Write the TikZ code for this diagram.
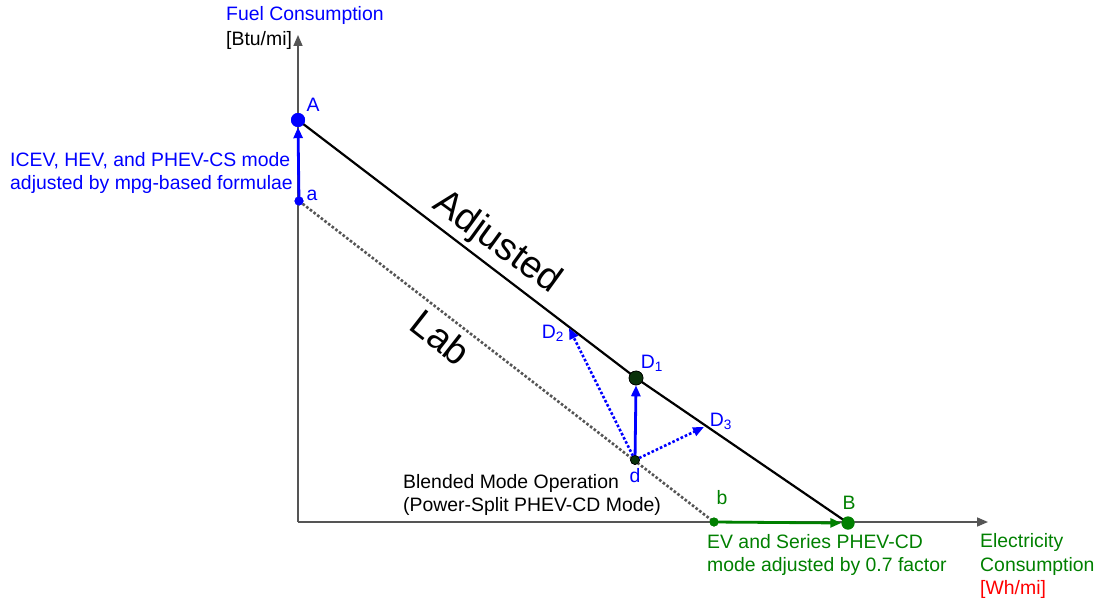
\documentclass[tikz,border=0pt]{standalone}
\usepackage{fontspec}
\setmainfont{Liberation Sans}
\usetikzlibrary{arrows.meta}
\definecolor{myblue}{RGB}{0,0,255}
\definecolor{mygreen}{RGB}{0,128,0}
\definecolor{axisgray}{RGB}{85,85,85}
\definecolor{dotgreen}{RGB}{10,50,10}
\begin{document}
\begin{tikzpicture}[x=1pt,y=-1pt,
  txt/.style={inner sep=0pt,font=\fontsize{19.4}{23.5}\selectfont},
  big/.style={inner sep=0pt,font=\fontsize{38}{40}\selectfont,rotate=-36},
  bigdot/.style={circle,inner sep=0pt,minimum size=14pt},
  smalldot/.style={circle,inner sep=0pt,minimum size=9pt},
  axisline/.style={draw=axisgray,line width=1.6pt,-{Triangle[length=11pt,width=9pt]}},
  arrowline/.style={line width=2.8pt,-{Triangle[length=11pt,width=9pt]}},
  dotarrow/.style={line width=2.6pt,dotted,-{Triangle[length=11pt,width=9pt]}}]
\useasboundingbox (0,0) rectangle (1099,602);
% coordinates
\coordinate (O) at (298,522);
\coordinate (Ytip) at (298,35);
\coordinate (Xtip) at (988,522);
\coordinate (D2) at (569,328);
\coordinate (D3) at (704,427);
% dots (positions)
\node[bigdot,fill=myblue] (A) at (298,120) {};
\node[smalldot,fill=myblue] (a) at (299,201) {};
\node[bigdot,fill=mygreen,minimum size=13pt] (B) at (848,523) {};
\node[smalldot,fill=mygreen] (b) at (714,522) {};
\node[smalldot,fill=dotgreen,draw=black,line width=0.6pt] (d) at (635,460) {};
\node[bigdot,fill=dotgreen,draw=black,line width=0.6pt] (D1) at (636,378) {};
% lab line
\draw[axisgray,line width=2.6pt,dotted] (a.center) -- (b.center);
% axes
\draw[axisline] (O) -- (Ytip);
\draw[axisline] (O) -- (Xtip);
% adjusted line
\draw[black,line width=2.2pt] (A.center) -- (D1.center) -- (B.center);
% arrows
\draw[arrowline,myblue] (a.center) -- (A.south);
\draw[arrowline,mygreen] (b.center) -- (B.west);
\draw[arrowline,myblue] (d.center) -- (D1.south);
\draw[dotarrow,myblue] (d.center) -- (D2);
\draw[dotarrow,myblue] (d.center) -- (D3);
% redraw dots on top
\node[bigdot,fill=myblue] at (A) {};
\node[smalldot,fill=myblue] at (a) {};
\node[bigdot,fill=mygreen,minimum size=13pt] at (B) {};
\node[smalldot,fill=mygreen] at (b) {};
\node[smalldot,fill=dotgreen,draw=black,line width=0.6pt] at (d) {};
\node[bigdot,fill=dotgreen,draw=black,line width=0.6pt] at (D1) {};
% labels
\node[txt,text=myblue,anchor=west] (fc) at (226,15) {Fuel Consumption};
\node[txt,anchor=west] (btu) at (226,40) {[Btu/mi]};
\node[txt,text=myblue] (lA) at (313,105) {A};
\node[txt,text=myblue] (la) at (312,195) {a};
\node[txt,text=myblue,anchor=west,align=left] (icev) at (10,173) {ICEV, HEV, and PHEV-CS mode\\adjusted by mpg-based formulae};
\node[big] (adj) at (497,243) {Adjusted};
\node[big,rotate=-2] (lab) at (441,337) {Lab};
\node[txt,text=myblue] (lD2) at (553,333) {D\textsubscript{2}};
\node[txt,text=myblue] (lD1) at (652,363) {D\textsubscript{1}};
\node[txt,text=myblue] (lD3) at (721,421) {D\textsubscript{3}};
\node[txt,text=myblue] (ld) at (635,476) {d};
\node[txt,anchor=west,align=left] (blend) at (403,495) {Blended Mode Operation\\(Power-Split PHEV-CD Mode)};
\node[txt,text=mygreen] (lb) at (722,498) {b};
\node[txt,text=mygreen] (lB) at (849,503) {B};
\node[txt,text=mygreen,anchor=west,align=left] (ev) at (707,555) {EV and Series PHEV-CD\\mode adjusted by 0.7 factor};
\node[txt,anchor=west,align=left] (ec) at (980,566) {\textcolor{mygreen}{Electricity}\\\textcolor{mygreen}{Consumption}\\\textcolor{red}{[Wh/mi]}};
\end{tikzpicture}
\end{document}
